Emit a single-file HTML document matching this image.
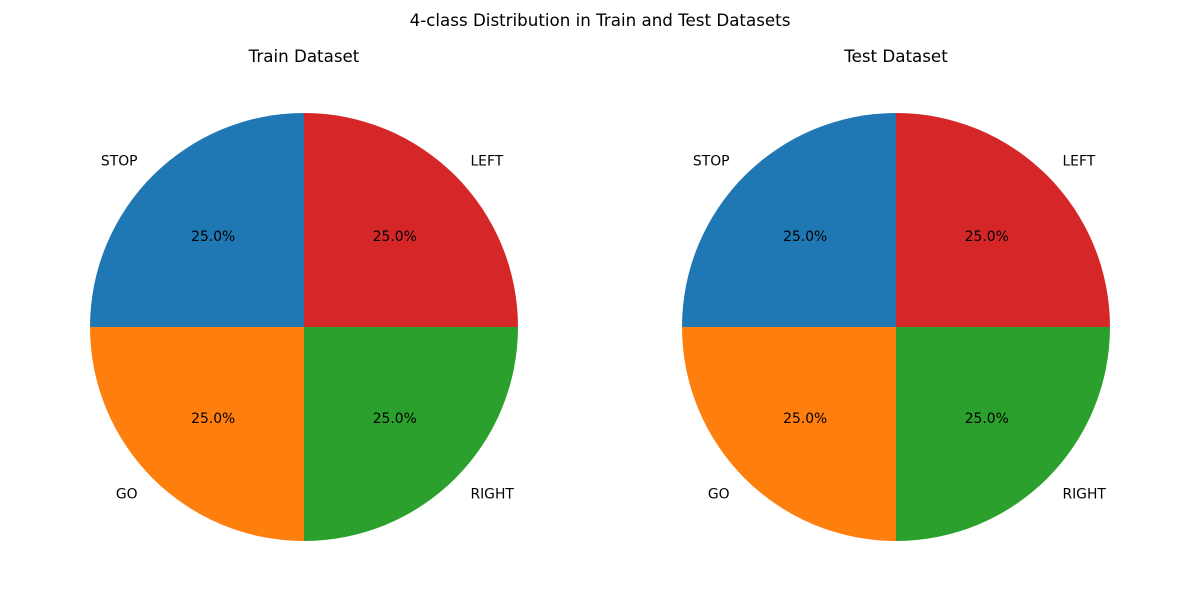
<!DOCTYPE html>
<html><head><meta charset="utf-8"><style>
body{margin:0;background:#fff}
svg text{font-family:"DejaVu Sans","Liberation Sans",sans-serif;fill:#000}
</style></head><body>
<svg id="chart" width="1200" height="600" viewBox="0 0 1200 600">
<rect width="1200" height="600" fill="#fff"/>
<text x="600" y="26" text-anchor="middle" font-size="16.7">4-class Distribution in Train and Test Datasets</text>
</svg>
<script>
const categories = ["STOP","GO","RIGHT","LEFT"];
const trainValues = [25,25,25,25];
const testValues = [25,25,25,25];
const panelTitles = ["Train Dataset","Test Dataset"];
const colors = ["#1f77b4","#ff7f0e","#2ca02c","#d62728"];
const NS="http://www.w3.org/2000/svg";
const svg=document.getElementById('chart');
function mk(tag,attrs,parent){const e=document.createElementNS(NS,tag);for(const k in attrs)e.setAttribute(k,attrs[k]);(parent||svg).appendChild(e);return e;}
function drawPie(values,cx,cy,r,title,prefix){
  const g=mk('g',{});
  
  
  const t=mk('text',{x:cx,y:62,'text-anchor':'middle','font-size':16.7},g);
  t.textContent=title;
  
  
  const total=values.reduce((a,b)=>a+b,0);
  let a0=90;
  values.forEach((v,i)=>{
    const sweep=v/total*360, a1=a0+sweep;
    const r0=a0*Math.PI/180, r1=a1*Math.PI/180;
    const x0=cx+r*Math.cos(r0), y0=cy-r*Math.sin(r0), x1=cx+r*Math.cos(r1), y1=cy-r*Math.sin(r1);
    const large=sweep>180?1:0;
    const p=mk('path',{d:`M${cx},${cy} L${x0},${y0} A${r},${r} 0 ${large} 0 ${x1},${y1} Z`,fill:colors[i]},g);
    
    
    const am=(a0+sweep/2)*Math.PI/180;
    const lx=cx+1.1*r*Math.cos(am), ly=cy-1.1*r*Math.sin(am);
    const lab=mk('text',{x:lx,y:ly+5,'text-anchor':Math.cos(am)<0?'end':'start','font-size':13.9},g);
    lab.textContent=categories[i];
    
    
    const px=cx+0.6*r*Math.cos(am), py=cy-0.6*r*Math.sin(am);
    const pt=mk('text',{x:px,y:py+5,'text-anchor':'middle','font-size':13.9},g);
    pt.textContent=(v/total*100).toFixed(1)+'%';
    
    
    a0=a1;
  });
}
drawPie(trainValues,304,327,214,panelTitles[0],'train');
drawPie(testValues,896,327,214,panelTitles[1],'test');
</script>
</body></html>
